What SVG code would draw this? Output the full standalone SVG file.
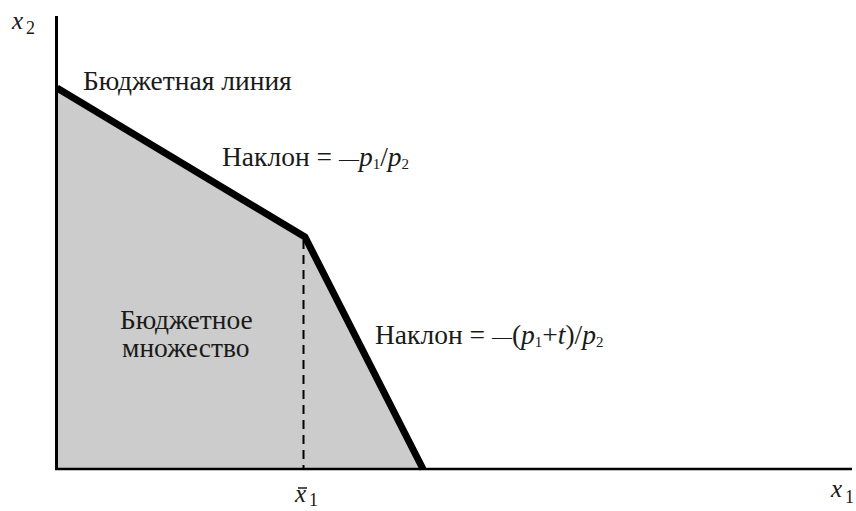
<svg xmlns="http://www.w3.org/2000/svg" width="856" height="511" viewBox="0 0 856 511" font-family="'Liberation Serif', 'Times New Roman', serif">
<style>
text{font-family:'Liberation Serif','Times New Roman',serif;fill:#1a1a1a;font-size:27.5px}
.i{font-style:italic}
.s{font-size:15px}
.d{font-size:20px}
.ax{font-size:25px}
.sub{font-size:18px}
</style>
<rect width="856" height="511" fill="#fff"/>
<g id="budget-set">
<polygon points="57,88 305,237 423,469 57,469" fill="#cccccc"/>
<text x="120" y="329">Бюджетное</text>
<text x="122" y="357">множество</text>
</g>
<g id="connectors">
<line x1="303.5" y1="240" x2="303.5" y2="469" stroke="#000" stroke-width="2" stroke-dasharray="9,6"/>
<path d="M57,88 L305,237 L423,469" fill="none" stroke="#000" stroke-width="7" stroke-linejoin="miter"/>
<line x1="56.5" y1="16" x2="56.5" y2="470" stroke="#000" stroke-width="3"/>
<line x1="55" y1="469" x2="852" y2="469" stroke="#000" stroke-width="2.5"/>
</g>
<g id="labels">
<text x="12" y="29" class="ax"><tspan class="i">x</tspan><tspan class="sub" dx="3" dy="5">2</tspan></text>
<text x="831" y="497" class="ax"><tspan class="i">x</tspan><tspan class="sub" dx="3" dy="6">1</tspan></text>
<text x="295" y="502" class="ax"><tspan class="i">x</tspan><tspan class="sub" dx="3" dy="4">1</tspan></text>
<line x1="298" y1="488" x2="307" y2="488" stroke="#1a1a1a" stroke-width="1.5"/>
<text x="83" y="90">Бюджетная линия</text>
<text x="222" y="166">Наклон = <tspan class="d">—</tspan><tspan class="i">p</tspan><tspan class="s" dy="3">1</tspan><tspan dy="-3">/</tspan><tspan class="i">p</tspan><tspan class="s" dy="3">2</tspan></text>
<text x="375" y="344">Наклон = <tspan class="d">—</tspan>(<tspan class="i">p</tspan><tspan class="s" dy="3">1</tspan><tspan dy="-3">+</tspan><tspan class="i">t</tspan>)/<tspan class="i">p</tspan><tspan class="s" dy="3">2</tspan></text>
</g>
</svg>
